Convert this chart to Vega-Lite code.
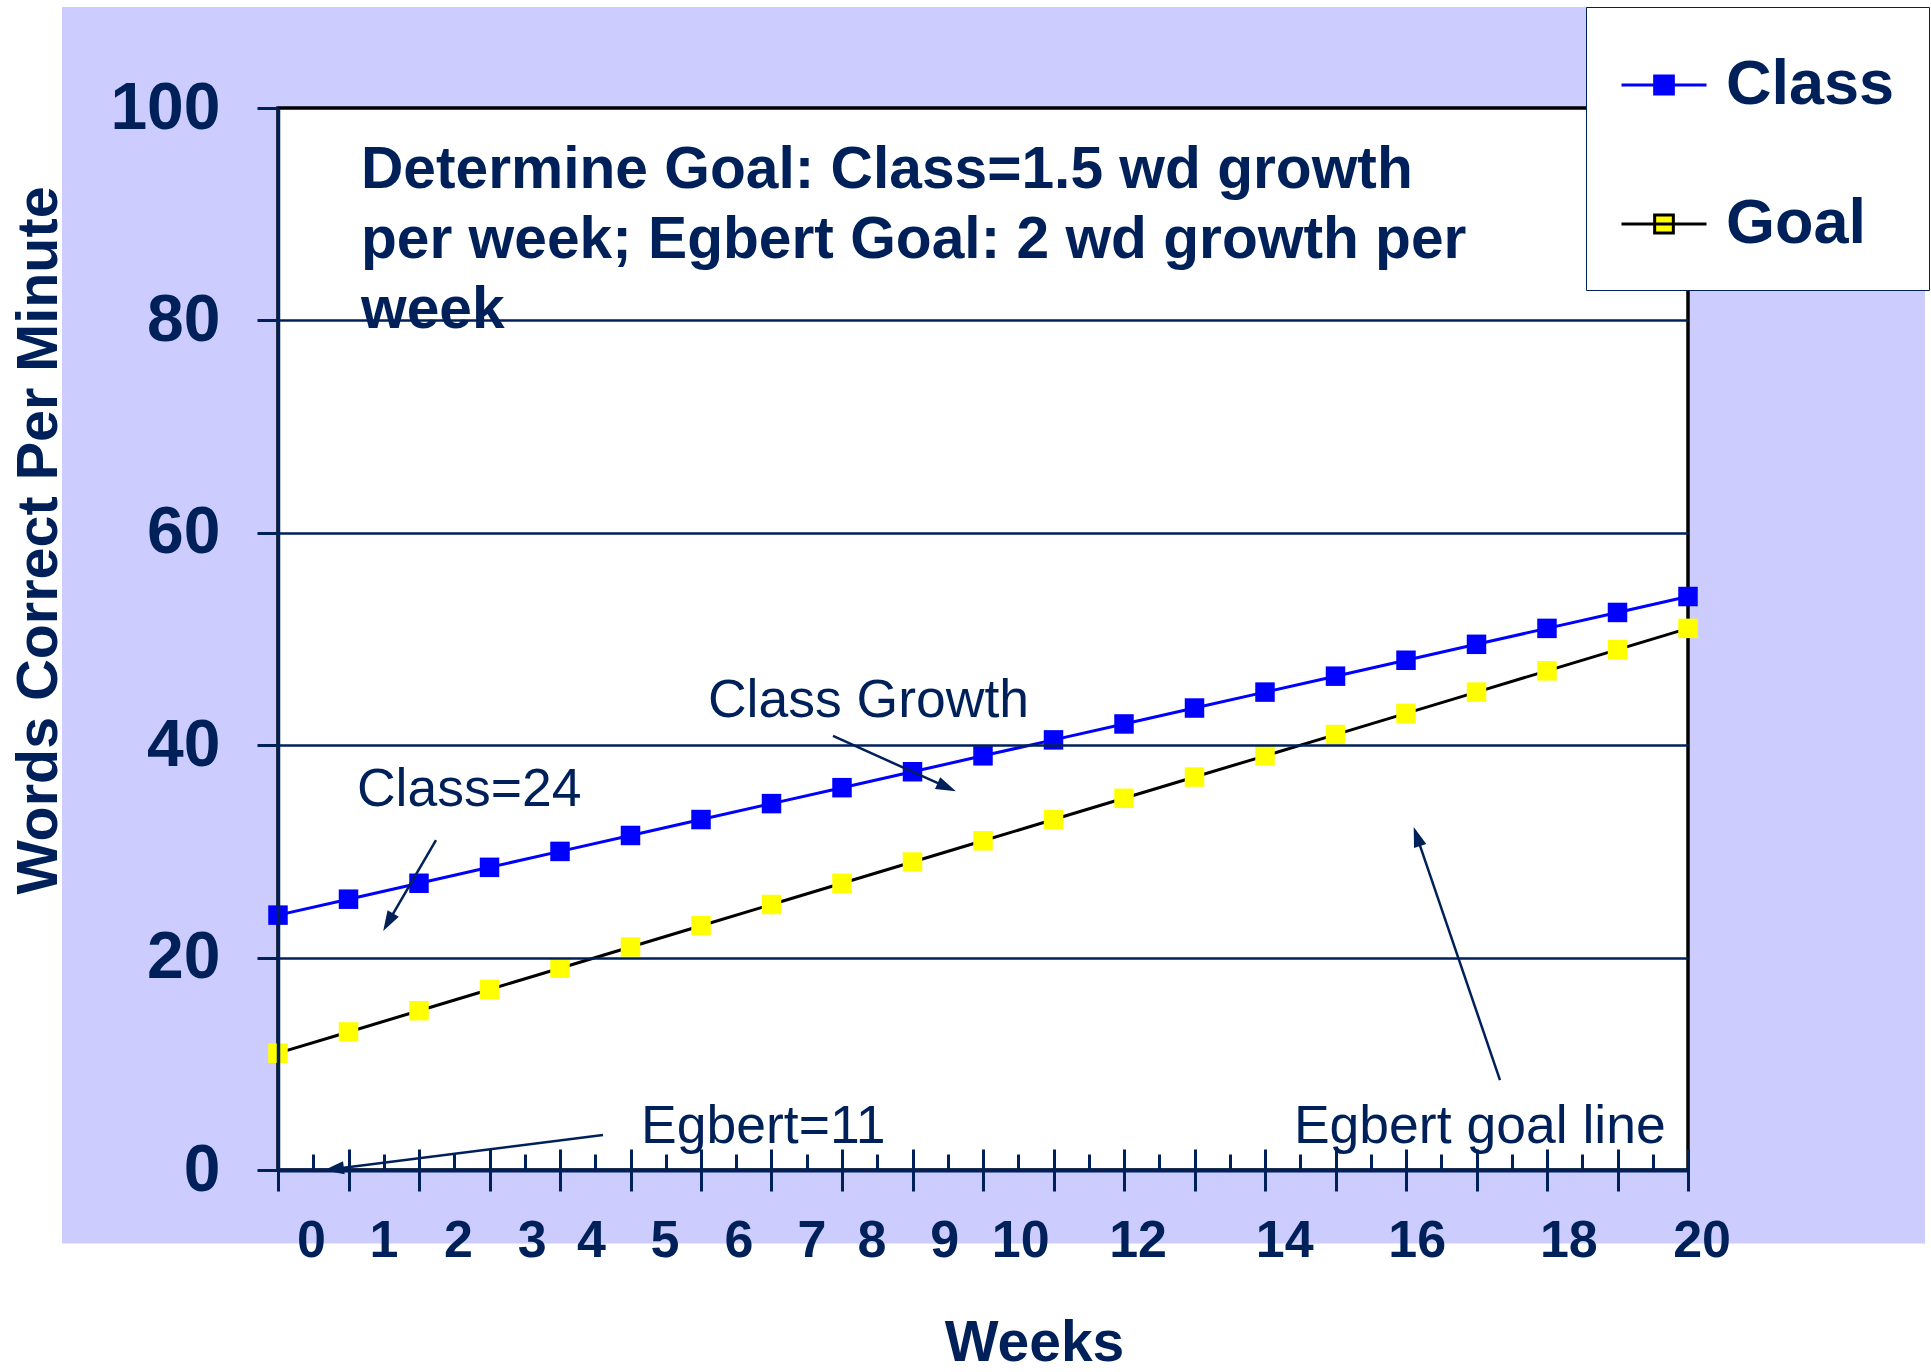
{
  "$schema": "https://vega.github.io/schema/vega-lite/v6.json",
  "width": 1410,
  "height": 1062,
  "autosize": {"type": "none"},
  "padding": {"left": 278, "top": 108, "right": 243, "bottom": 202},
  "background": "#FFFFFF",
  "config": {"view": {"stroke": null}, "font": "Liberation Sans"},
  "datasets": {
    "scores": [
      {"week": 0, "wcpm": 24, "series": "Class"},
      {"week": 1, "wcpm": 25.5, "series": "Class"},
      {"week": 2, "wcpm": 27, "series": "Class"},
      {"week": 3, "wcpm": 28.5, "series": "Class"},
      {"week": 4, "wcpm": 30, "series": "Class"},
      {"week": 5, "wcpm": 31.5, "series": "Class"},
      {"week": 6, "wcpm": 33, "series": "Class"},
      {"week": 7, "wcpm": 34.5, "series": "Class"},
      {"week": 8, "wcpm": 36, "series": "Class"},
      {"week": 9, "wcpm": 37.5, "series": "Class"},
      {"week": 10, "wcpm": 39, "series": "Class"},
      {"week": 11, "wcpm": 40.5, "series": "Class"},
      {"week": 12, "wcpm": 42, "series": "Class"},
      {"week": 13, "wcpm": 43.5, "series": "Class"},
      {"week": 14, "wcpm": 45, "series": "Class"},
      {"week": 15, "wcpm": 46.5, "series": "Class"},
      {"week": 16, "wcpm": 48, "series": "Class"},
      {"week": 17, "wcpm": 49.5, "series": "Class"},
      {"week": 18, "wcpm": 51, "series": "Class"},
      {"week": 19, "wcpm": 52.5, "series": "Class"},
      {"week": 20, "wcpm": 54, "series": "Class"},
      {"week": 0, "wcpm": 11, "series": "Goal"},
      {"week": 1, "wcpm": 13, "series": "Goal"},
      {"week": 2, "wcpm": 15, "series": "Goal"},
      {"week": 3, "wcpm": 17, "series": "Goal"},
      {"week": 4, "wcpm": 19, "series": "Goal"},
      {"week": 5, "wcpm": 21, "series": "Goal"},
      {"week": 6, "wcpm": 23, "series": "Goal"},
      {"week": 7, "wcpm": 25, "series": "Goal"},
      {"week": 8, "wcpm": 27, "series": "Goal"},
      {"week": 9, "wcpm": 29, "series": "Goal"},
      {"week": 10, "wcpm": 31, "series": "Goal"},
      {"week": 11, "wcpm": 33, "series": "Goal"},
      {"week": 12, "wcpm": 35, "series": "Goal"},
      {"week": 13, "wcpm": 37, "series": "Goal"},
      {"week": 14, "wcpm": 39, "series": "Goal"},
      {"week": 15, "wcpm": 41, "series": "Goal"},
      {"week": 16, "wcpm": 43, "series": "Goal"},
      {"week": 17, "wcpm": 45, "series": "Goal"},
      {"week": 18, "wcpm": 47, "series": "Goal"},
      {"week": 19, "wcpm": 49, "series": "Goal"},
      {"week": 20, "wcpm": 51, "series": "Goal"}
    ],
    "ticklabels": [
      {"label": "0", "pos": 0.475},
      {"label": "1", "pos": 1.504},
      {"label": "2", "pos": 2.56},
      {"label": "3", "pos": 3.605},
      {"label": "4", "pos": 4.447},
      {"label": "5", "pos": 5.489},
      {"label": "6", "pos": 6.537},
      {"label": "7", "pos": 7.574},
      {"label": "8", "pos": 8.425},
      {"label": "9", "pos": 9.457},
      {"label": "10", "pos": 10.535},
      {"label": "12", "pos": 12.2},
      {"label": "14", "pos": 14.28},
      {"label": "16", "pos": 16.16},
      {"label": "18", "pos": 18.31},
      {"label": "20", "pos": 20.2}
    ],
    "notes": [
      {"label": "Class Growth", "x": 6.099, "y": 42.65},
      {"label": "Class=24", "x": 1.12, "y": 34.27},
      {"label": "Egbert=11", "x": 5.15, "y": 2.54},
      {"label": "Egbert goal line", "x": 14.41, "y": 2.54}
    ],
    "arrows": [
      {"name": "growth", "x1": 7.872, "y1": 40.87, "x2": 9.486, "y2": 36.05},
      {"name": "class24", "x1": 2.241, "y1": 31.07, "x2": 1.563, "y2": 23.33},
      {"name": "egbert", "x1": 4.61, "y1": 3.3, "x2": 0.793, "y2": 0.1},
      {"name": "goalline", "x1": 17.333, "y1": 8.47, "x2": 16.155, "y2": 31.4}
    ]
  },
  "resolve": {
    "axis": {"x": "independent", "y": "independent"},
    "legend": {"color": "independent", "stroke": "independent", "fill": "independent"}
  },
  "layer": [
    {
      "data": {"values": [{}]},
      "mark": {"type": "rect", "color": "#CCCCFF", "clip": false},
      "encoding": {
        "x": {"datum": -3.064, "type": "quantitative", "scale": {"domain": [0, 20], "nice": false, "zero": false}, "axis": null},
        "x2": {"datum": 23.362},
        "y": {"datum": 109.51, "type": "quantitative", "scale": {"domain": [0, 100], "nice": false, "zero": false}, "axis": null},
        "y2": {"datum": -6.92}
      }
    },
    {
      "data": {"values": [{}]},
      "mark": {"type": "rect", "fill": "#FFFFFF", "stroke": "#000000", "strokeWidth": 3.5},
      "encoding": {
        "x": {
          "datum": 0, "type": "quantitative",
          "scale": {"domain": [0, 20], "nice": false, "zero": false},
          "axis": {
            "orient": "bottom",
            "values": [0, 1, 2, 3, 4, 5, 6, 7, 8, 9, 10, 11, 12, 13, 14, 15, 16, 17, 18, 19, 20],
            "tickSize": 21, "tickWidth": 3, "tickColor": "#00205A",
            "domainColor": "#00205A", "domainWidth": 4,
            "labels": false, "grid": false,
            "title": "Weeks", "titleFont": "Liberation Sans", "titleFontSize": 57, "titleFontWeight": "bold",
            "titleColor": "#00205A", "titleX": 756, "titleY": 190, "titleAlign": "center", "titleBaseline": "alphabetic",
            "zindex": 1
          }
        },
        "x2": {"datum": 20},
        "y": {
          "datum": 0, "type": "quantitative",
          "scale": {"domain": [0, 100], "nice": false, "zero": false},
          "axis": {
            "orient": "left",
            "values": [0, 20, 40, 60, 80, 100],
            "tickSize": 21, "tickWidth": 3, "tickColor": "#00205A",
            "domainColor": "#00205A", "domainWidth": 3.5,
            "grid": false,
            "labelFont": "Liberation Sans", "labelFontSize": 66, "labelFontWeight": "bold", "labelColor": "#00205A",
            "labelPadding": 37,
            "title": "Words Correct Per Minute", "titleFont": "Liberation Sans", "titleFontSize": 57.5, "titleFontWeight": "bold",
            "titleColor": "#00205A", "titleX": -222, "titleY": 432, "titleAngle": 270, "titleAlign": "center", "titleBaseline": "alphabetic",
            "zindex": 1
          }
        },
        "y2": {"datum": 100}
      }
    },
    {
      "data": {"name": "scores"},
      "mark": {"type": "line", "strokeWidth": 3},
      "encoding": {
        "x": {
          "field": "week", "type": "quantitative",
          "scale": {"domain": [0, 20], "nice": false, "zero": false},
          "axis": {
            "orient": "bottom",
            "values": [0, 1, 2, 3, 4, 5, 6, 7, 8, 9, 10, 11, 12, 13, 14, 15, 16, 17, 18, 19, 20],
            "tickSize": -21, "tickWidth": 3, "tickColor": "#00205A",
            "domain": false, "labels": false, "grid": false, "title": null, "zindex": 1
          }
        },
        "y": {
          "field": "wcpm", "type": "quantitative",
          "scale": {"domain": [0, 100], "nice": false, "zero": false},
          "axis": {
            "orient": "left",
            "values": [20, 40, 60, 80],
            "ticks": false, "domain": false, "labels": false, "title": null,
            "grid": true, "gridColor": "#00205A", "gridWidth": 2.5,
            "zindex": 1
          }
        },
        "stroke": {"field": "series", "type": "nominal", "scale": {"domain": ["Class", "Goal"], "range": ["#0000FF", "#000000"]}, "legend": null}
      }
    },
    {
      "data": {"name": "scores"},
      "mark": {"type": "point", "shape": "square", "filled": true, "size": 380, "opacity": 1},
      "encoding": {
        "x": {
          "field": "week", "type": "quantitative",
          "scale": {"domain": [0, 20], "nice": false, "zero": false},
          "axis": {
            "orient": "bottom",
            "values": [0.5, 1.5, 2.5, 3.5, 4.5, 5.5, 6.5, 7.5, 8.5, 9.5, 10.5, 11.5, 12.5, 13.5, 14.5, 15.5, 16.5, 17.5, 18.5, 19.5],
            "tickSize": -16, "tickWidth": 3, "tickColor": "#00205A",
            "domain": false, "labels": false, "grid": false, "title": null, "zindex": 1
          }
        },
        "y": {"field": "wcpm", "type": "quantitative", "scale": {"domain": [0, 100], "nice": false, "zero": false}, "axis": null},
        "color": {
          "field": "series", "type": "nominal",
          "scale": {"domain": ["Class", "Goal"], "range": ["#0000FF", "#FFFF00"]},
          "legend": null
        }
      }
    },
    {
      "data": {"name": "scores"},
      "transform": [{"filter": "false"}],
      "mark": {"type": "point", "shape": "M-1,0H1M-0.22,-0.21H0.22V0.21H-0.22Z", "filled": true, "size": 7225, "strokeWidth": 3, "opacity": 1},
      "encoding": {
        "x": {"field": "week", "type": "quantitative", "scale": {"domain": [0, 20], "nice": false, "zero": false}, "axis": null},
        "y": {"field": "wcpm", "type": "quantitative", "scale": {"domain": [0, 100], "nice": false, "zero": false}, "axis": null},
        "fill": {
          "field": "series", "type": "nominal",
          "scale": {"domain": ["Class", "Goal"], "range": ["#0000FF", "#FFFF00"]},
          "legend": {
            "title": null, "orient": "none", "legendX": 1308, "legendY": -101,
            "fillColor": "#FFFFFF", "strokeColor": "#00205A", "cornerRadius": 0,
            "padding": 34, "rowPadding": 63,
            "symbolSize": 7225, "symbolStrokeWidth": 3, "symbolOpacity": 1,
            "labelFont": "Liberation Sans", "labelFontSize": 63, "labelFontWeight": "bold", "labelColor": "#00205A",
            "labelOffset": 18, "labelLimit": 500,
            "zindex": 2
          }
        },
        "stroke": {
          "field": "series", "type": "nominal",
          "scale": {"domain": ["Class", "Goal"], "range": ["#0000FF", "#000000"]},
          "legend": {
            "title": null, "orient": "none", "legendX": 1308, "legendY": -101,
            "fillColor": "#FFFFFF", "strokeColor": "#00205A", "cornerRadius": 0,
            "padding": 34, "rowPadding": 63,
            "symbolSize": 7225, "symbolStrokeWidth": 3, "symbolOpacity": 1,
            "labelFont": "Liberation Sans", "labelFontSize": 63, "labelFontWeight": "bold", "labelColor": "#00205A",
            "labelOffset": 18, "labelLimit": 500,
            "zindex": 2
          }
        }
      }
    },
    {
      "data": {"name": "ticklabels"},
      "mark": {"type": "text", "font": "Liberation Sans", "fontSize": 52, "fontWeight": "bold", "color": "#00205A", "align": "center", "baseline": "alphabetic", "clip": false},
      "encoding": {
        "x": {"field": "pos", "type": "quantitative", "scale": {"domain": [0, 20], "nice": false, "zero": false}, "axis": null},
        "y": {"datum": -8.19, "type": "quantitative", "scale": {"domain": [0, 100], "nice": false, "zero": false}, "axis": null},
        "text": {"field": "label"}
      }
    },
    {
      "data": {"name": "notes"},
      "mark": {"type": "text", "font": "Liberation Sans", "fontSize": 53.5, "color": "#00205A", "align": "left", "baseline": "alphabetic", "clip": false},
      "encoding": {
        "x": {"field": "x", "type": "quantitative", "scale": {"domain": [0, 20], "nice": false, "zero": false}, "axis": null},
        "y": {"field": "y", "type": "quantitative", "scale": {"domain": [0, 100], "nice": false, "zero": false}, "axis": null},
        "text": {"field": "label"}
      }
    },
    {
      "data": {"values": [{}]},
      "mark": {"type": "text", "font": "Liberation Sans", "fontSize": 58.7, "fontWeight": "bold", "color": "#00205A", "align": "left", "baseline": "alphabetic", "lineBreak": "\n", "lineHeight": 70, "clip": false},
      "encoding": {
        "x": {"datum": 1.177, "type": "quantitative", "scale": {"domain": [0, 20], "nice": false, "zero": false}, "axis": null},
        "y": {"datum": 92.47, "type": "quantitative", "scale": {"domain": [0, 100], "nice": false, "zero": false}, "axis": null},
        "text": {"value": "Determine Goal: Class=1.5 wd growth\nper week; Egbert Goal: 2 wd growth per\nweek"}
      }
    },
    {
      "data": {"name": "arrows"},
      "mark": {"type": "rule", "color": "#00205A", "strokeWidth": 2.5, "clip": false},
      "encoding": {
        "x": {"field": "x1", "type": "quantitative", "scale": {"domain": [0, 20], "nice": false, "zero": false}, "axis": null},
        "y": {"field": "y1", "type": "quantitative", "scale": {"domain": [0, 100], "nice": false, "zero": false}, "axis": null},
        "x2": {"field": "x2"},
        "y2": {"field": "y2"}
      }
    },
    {
      "data": {"name": "arrows"},
      "mark": {"type": "point", "shape": "M0,-1L-0.65,1L0.65,1Z", "filled": true, "size": 400, "color": "#00205A", "opacity": 1, "clip": false},
      "encoding": {
        "x": {"field": "x2", "type": "quantitative", "scale": {"domain": [0, 20], "nice": false, "zero": false}, "axis": null},
        "y": {"field": "y2", "type": "quantitative", "scale": {"domain": [0, 100], "nice": false, "zero": false}, "axis": null},
        "angle": {
          "condition": [
            {"test": "datum.name === 'growth'", "value": 113.8},
            {"test": "datum.name === 'class24'", "value": 210.1},
            {"test": "datum.name === 'egbert'", "value": 262.8}
          ],
          "value": 341.1
        }
      }
    }
  ]
}
